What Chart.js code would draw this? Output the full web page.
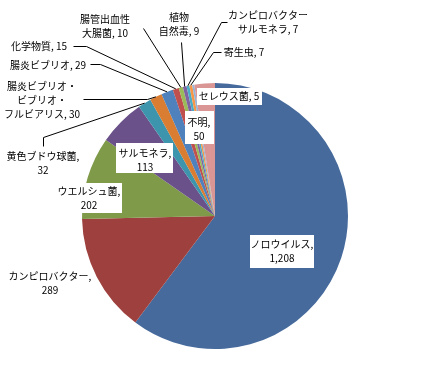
<!DOCTYPE html>
<html>
<head>
<meta charset="utf-8">
<script src="https://cdn.jsdelivr.net/npm/chart.js@4.4.3/dist/chart.umd.min.js"></script>
<style>
  html, body { margin: 0; padding: 0; background: #fff; }
  #wrap { width: 428px; height: 370px; position: relative; }
</style>
</head>
<body>
<div id="wrap"><canvas id="pie"></canvas></div>
<script>
// data, clockwise from 12 o'clock
const categories = [
  'ノロウイルス', 'カンピロバクター', 'ウエルシュ菌', 'サルモネラ', '黄色ブドウ球菌',
  '腸炎ビブリオ・\nビブリオ・\nフルビアリス', '腸炎ビブリオ', '化学物質', '腸管出血性\n大腸菌',
  '植物\n自然毒', 'カンピロバクター\nサルモネラ', '寄生虫', 'セレウス菌', '不明'
];
const cases = [1208, 289, 202, 113, 32, 30, 29, 15, 10, 9, 7, 7, 5, 50];
const sliceColors = [
  '#466a9c', '#9e413e', '#7f9b4a', '#6a5189', '#3d95ad', '#d97d33', '#4f81bd',
  '#c0504d', '#9bbb59', '#8064a2', '#4bacc6', '#f79646', '#95b3d7', '#d99694'
];

// label placement: text centre, number on its own line?, white box, leader path
const labelLayout = [
  { x: 282, y: 244, split: true, box: [250, 235, 64, 33] },
  { x: 50, y: 276, split: true },
  { x: 89, y: 191, split: true, box: [55, 183, 67, 30] },
  { x: 145, y: 153, split: true, box: [116, 143, 57, 30] },
  { x: 43, y: 156, split: true, leader: [[43, 146], [43, 137]] },
  { x: 42, y: 86, leader: [[83, 99], [147, 99]] },
  { x: 48, y: 65, leader: [[90, 64], [100, 64]] },
  { x: 39, y: 46, leader: [[73, 46], [86, 46]] },
  { x: 105, y: 19, leader: [[143, 28]] },
  { x: 179, y: 17, leader: [[181, 42]] },
  { x: 268, y: 15, leader: [[227, 22], [221, 22]] },
  { x: 244, y: 52, leader: [[221, 52], [213, 52]] },
  { x: 229, y: 96, box: [197, 88, 65, 17] },
  { x: 199, y: 122, split: true, box: [185, 111, 29, 33] }
];

const FONT = '10px "Noto Sans CJK JP", "Noto Sans", sans-serif';
const LINE_H = 14;

function labelLines(i) {
  const num = cases[i].toLocaleString('en-US');
  const lines = categories[i].split('\n');
  if (labelLayout[i].split) {
    lines[lines.length - 1] += ',';
    lines.push(num);
  } else {
    lines[lines.length - 1] += ', ' + num;
  }
  return lines;
}

const pieLabels = {
  id: 'pieLabels',
  afterDatasetsDraw(chart) {
    const ctx = chart.ctx;
    const arcs = chart.getDatasetMeta(0).data;
    ctx.save();
    ctx.font = FONT;
    ctx.textAlign = 'center';
    ctx.textBaseline = 'middle';
    labelLayout.forEach((lay, i) => {
      const arc = arcs[i];
      if (lay.leader) {
        const mid = (arc.startAngle + arc.endAngle) / 2;
        const ex = arc.x + Math.cos(mid) * arc.outerRadius;
        const ey = arc.y + Math.sin(mid) * arc.outerRadius;
        ctx.strokeStyle = '#000';
        ctx.lineWidth = 1;
        ctx.beginPath();
        lay.leader.forEach((p, k) => {
          if (k === 0) ctx.moveTo(p[0] + 0.5, p[1] + 0.5);
          else ctx.lineTo(p[0] + 0.5, p[1] + 0.5);
        });
        ctx.lineTo(ex, ey);
        ctx.stroke();
      }
      if (lay.box) {
        ctx.fillStyle = '#fff';
        ctx.fillRect(lay.box[0], lay.box[1], lay.box[2], lay.box[3]);
      }
      const lines = labelLines(i);
      ctx.fillStyle = '#000';
      lines.forEach((t, k) => {
        ctx.fillText(t, lay.x, lay.y + k * LINE_H);
      });
    });
    ctx.restore();
  }
};

new Chart(document.getElementById('pie'), {
  type: 'pie',
  data: {
    labels: categories,
    datasets: [{
      data: cases,
      backgroundColor: sliceColors,
      borderWidth: 0
    }]
  },
  options: {
    responsive: true,
    maintainAspectRatio: false,
    animation: false,
    layout: { padding: { top: 83, bottom: 21, left: 82, right: 80 } },
    plugins: {
      legend: { display: false },
      tooltip: { enabled: false }
    }
  },
  plugins: [pieLabels]
});
</script>
</body>
</html>
